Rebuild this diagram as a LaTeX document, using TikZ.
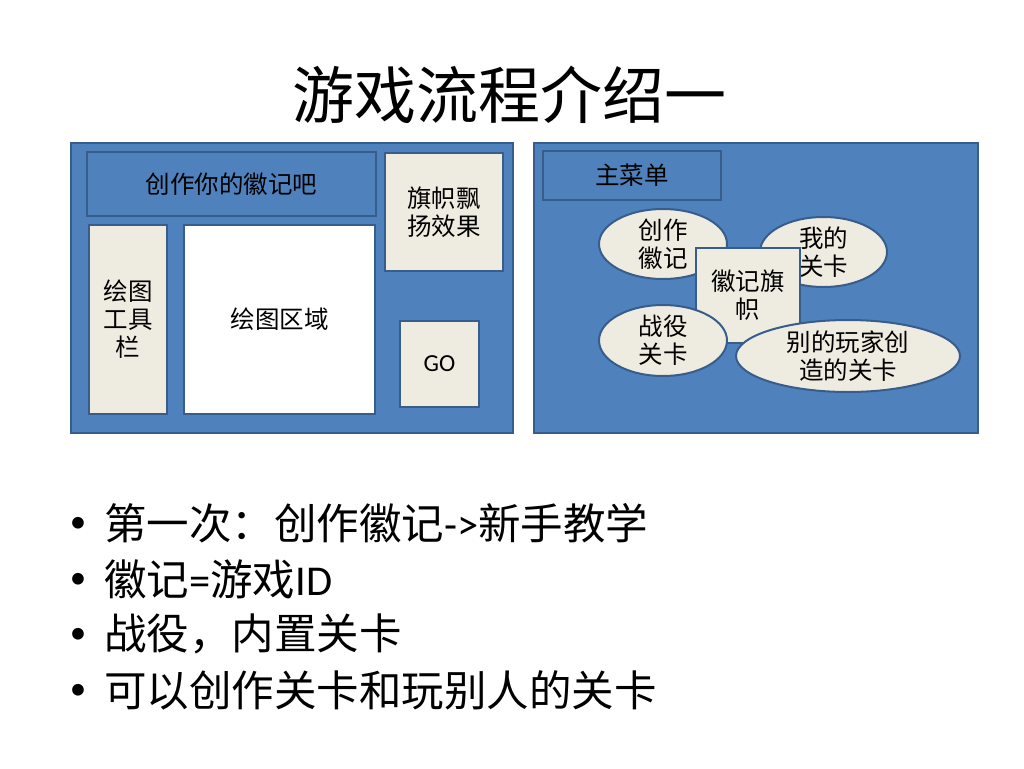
\documentclass[tikz,border=0pt]{standalone}
\usepackage{fontspec}
\setmainfont{Carlito}
\newfontfamily\cjk{Noto Sans CJK SC}
\usetikzlibrary{shapes.geometric}
\definecolor{fillblue}{HTML}{4F81BD}
\definecolor{bordblue}{HTML}{385D8A}
\definecolor{cream}{HTML}{EEECE1}
\tikzset{
  panel/.style={draw=bordblue, fill=fillblue, line width=2pt, inner sep=0pt},
  bluebox/.style={draw=bordblue, fill=fillblue, line width=2pt, inner sep=0pt, font=\cjk\fontsize{24.5}{28}\selectfont, align=center},
  creambox/.style={draw=bordblue, fill=cream, line width=2pt, inner sep=0pt, font=\cjk\fontsize{24.5}{28}\selectfont, align=center},
  whitebox/.style={draw=bordblue, fill=white, line width=2pt, inner sep=0pt, font=\cjk\fontsize{24.5}{28}\selectfont, align=center},
  oval/.style={ellipse, draw=bordblue, fill=cream, line width=2pt, inner sep=0pt},
  ovaltext/.style={inner sep=0pt, font=\cjk\fontsize{24.5}{28}\selectfont, align=center},
  bulletdot/.style={inner sep=0pt, font=\fontsize{33}{40}\selectfont},
  bullettext/.style={inner sep=0pt, anchor=west, font=\fontsize{42.5}{50}\selectfont},
}
\begin{document}
\begin{tikzpicture}[x=1pt,y=-1pt]
\useasboundingbox[fill=white] (0,0) rectangle (1024,768);

% title
\node[inner sep=0pt, font=\cjk\fontsize{62}{72}\selectfont] (title) at (509,95) {游戏流程介绍一};

% left panel
\node[panel, minimum width=442pt, minimum height=290pt] (lp) at (292,288) {};
\node[bluebox, minimum width=289pt, minimum height=64pt] (badgebar) at (231.5,184) {创作你的徽记吧};
\node[creambox, minimum width=118pt, minimum height=118pt] (flag) at (444,212) {旗帜飘\\扬效果};
\node[creambox, minimum width=78pt, minimum height=189pt] (tools) at (128,319.5) {绘图\\工具\\栏};
\node[whitebox, minimum width=191pt, minimum height=189pt] (canvas) at (279.5,319.5) {绘图区域};
\node[creambox, minimum width=79pt, minimum height=86pt, font=\fontsize{24.5}{28}\selectfont] (go) at (439.5,364) {GO};

% right panel
\node[panel, minimum width=444pt, minimum height=290pt] (rp) at (756,288) {};
\node[bluebox, minimum width=178pt, minimum height=49pt] (menu) at (632,175.5) {主菜单};

\node[oval, minimum width=128pt, minimum height=70pt] (create) at (663,244) {};
\node[ovaltext] (createt) at (create.center) {创作\\徽记};
\node[oval, minimum width=127pt, minimum height=70pt] (mine) at (823.5,252) {};
\node[ovaltext] (minet) at (mine.center) {我的\\关卡};
\node[creambox, minimum width=104pt, minimum height=95pt] (bflag) at (748,295.5) {徽记旗\\帜};
\node[oval, minimum width=128pt, minimum height=71pt] (camp) at (663,340.5) {};
\node[ovaltext] (campt) at (camp.center) {战役\\关卡};
\node[oval, minimum width=224pt, minimum height=72pt] (others) at (848,356) {};
\node[ovaltext] (otherst) at (others.center) {别的玩家创\\造的关卡};

% bullets
\node[bulletdot] (d1) at (78,525) {•};
\node[bullettext] (b1) at (104,523) {{\cjk 第一次：创作徽记}->{\cjk 新手教学}};
\node[bulletdot] (d2) at (78,581) {•};
\node[bullettext] (b2) at (104,579) {{\cjk 徽记}={\cjk 游戏}ID};
\node[bulletdot] (d3) at (78,636) {•};
\node[bullettext] (b3) at (104,634) {{\cjk 战役，内置关卡}};
\node[bulletdot] (d4) at (78,692) {•};
\node[bullettext] (b4) at (104,690) {{\cjk 可以创作关卡和玩别人的关卡}};
\end{tikzpicture}
\end{document}
